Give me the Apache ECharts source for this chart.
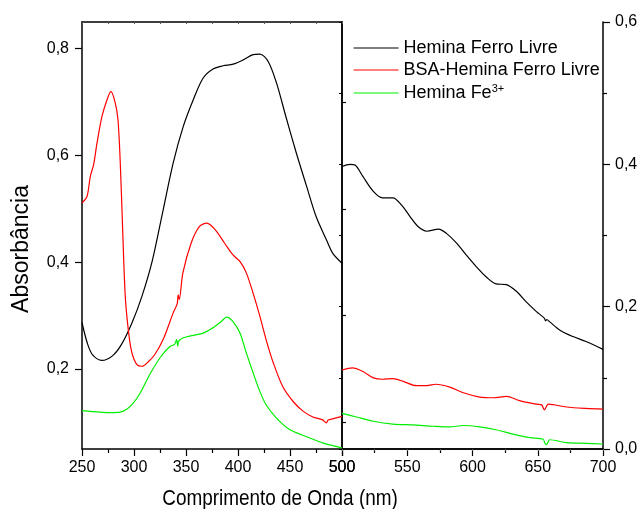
<!DOCTYPE html>
<html>
<head>
<meta charset="utf-8">
<script src="https://cdn.jsdelivr.net/npm/echarts@6/dist/echarts.min.js"></script>
<style>
  html, body { margin: 0; padding: 0; background: #fff; }
  #chart { width: 641px; height: 509px; }
</style>
</head>
<body>
<div id="chart"></div>
<script>
// 250-500 nm (eixo esquerdo)
const nmBlackL = [250, 255, 260, 269, 279, 288, 298, 307.6, 317.5, 327.5, 337.7, 347.3, 356.9, 366.5, 376, 385.7, 395.3, 405, 414.5, 421, 429, 437, 446, 456, 466, 475, 485, 491, 500]
const absBlackL = [0.287, 0.249, 0.227, 0.216, 0.224, 0.246, 0.286, 0.336, 0.402, 0.493, 0.586, 0.654, 0.704, 0.745, 0.762, 0.768, 0.771, 0.779, 0.789, 0.790, 0.776, 0.736, 0.673, 0.605, 0.542, 0.486, 0.442, 0.417, 0.398]

const nmRedL = [250, 254.8, 258, 261.2, 264.4, 269.2, 274, 277.8, 282, 284.6, 286.8, 289.1, 291.6, 294.9, 298, 302.8, 307.6, 314, 320, 328, 337.7, 341.5, 342.5, 343.5, 347, 355, 363, 370, 378, 387, 395, 402, 408, 414.5, 421, 427, 434, 443, 453, 462.5, 472, 481, 485, 486.5, 490, 500]
const absRedL = [0.511, 0.523, 0.561, 0.583, 0.623, 0.673, 0.704, 0.720, 0.698, 0.667, 0.586, 0.461, 0.336, 0.267, 0.230, 0.208, 0.205, 0.214, 0.227, 0.255, 0.305, 0.322, 0.339, 0.330, 0.380, 0.436, 0.467, 0.473, 0.461, 0.436, 0.414, 0.401, 0.380, 0.342, 0.299, 0.255, 0.211, 0.167, 0.139, 0.121, 0.110, 0.105, 0.099, 0.104, 0.106, 0.111]

const nmGreenL = [250, 267, 280, 290, 298, 306, 315, 325, 334.5, 339, 341, 342, 343, 347, 357, 366.5, 376, 384, 389, 395, 402, 408, 414.5, 421, 427, 437, 450, 466, 482, 500]
const absGreenL = [0.122, 0.119, 0.118, 0.121, 0.133, 0.155, 0.189, 0.221, 0.242, 0.246, 0.255, 0.243, 0.252, 0.258, 0.263, 0.267, 0.277, 0.289, 0.297, 0.289, 0.267, 0.230, 0.193, 0.158, 0.133, 0.108, 0.086, 0.073, 0.061, 0.052]

// 500-700 nm (eixo direito)
const nmBlackR = [500, 506, 510, 516, 524, 531, 539, 545.5, 552, 558, 565, 574, 580, 588, 595, 603, 611, 618, 626, 634, 641, 649, 655, 656, 657, 659, 667, 677, 687, 700]
const absBlackR = [0.397, 0.400, 0.399, 0.383, 0.362, 0.353, 0.353, 0.343, 0.327, 0.313, 0.306, 0.309, 0.303, 0.289, 0.273, 0.256, 0.241, 0.232, 0.231, 0.221, 0.207, 0.193, 0.184, 0.180, 0.182, 0.179, 0.167, 0.158, 0.151, 0.140]

const nmRedR = [500, 508, 516, 524, 531, 539, 547, 557, 565, 572, 582.5, 593, 605.5, 616, 626, 636, 649, 653, 655, 657, 658, 672, 687, 700]
const absRedR = [0.111, 0.114, 0.109, 0.100, 0.098, 0.099, 0.095, 0.089, 0.089, 0.091, 0.087, 0.079, 0.073, 0.072, 0.074, 0.068, 0.063, 0.062, 0.055, 0.061, 0.063, 0.059, 0.057, 0.056]

const nmGreenR = [500, 511, 524, 539, 554, 570, 582.5, 593, 605.5, 618, 631, 644, 654, 655.5, 656.5, 658, 659, 672, 687, 700]
const absGreenR = [0.050, 0.045, 0.039, 0.035, 0.034, 0.032, 0.031, 0.033, 0.031, 0.027, 0.021, 0.016, 0.014, 0.008, 0.006, 0.010, 0.013, 0.009, 0.008, 0.007]

const seriesNames = ['Hemina Ferro Livre', 'BSA-Hemina Ferro Livre', 'Hemina Fe3+']
const seriesColors = ['#000000', '#ff0000', '#00ee00']
const leftMajor = [0.2, 0.4, 0.6, 0.8]
const leftMinor = [0.1, 0.3, 0.5, 0.7]

const tickFont = "'Liberation Sans', Arial, sans-serif"
const axisLine = { show: true, lineStyle: { color: '#000', width: 1.5 } }
const fmt = v => v.toFixed(1).replace('.', ',')
const pairs = (xs, ys) => xs.map((x, i) => [x, ys[i]])

function line(name, xi, yi, xs, ys) {
  const c = seriesColors[seriesNames.indexOf(name)]
  return {
    name: name,
    type: 'line',
    xAxisIndex: xi,
    yAxisIndex: yi,
    data: pairs(xs, ys),
    symbol: 'none',
    smooth: 0.3,
    color: c,
    lineStyle: { color: c, width: 1.2 },
    silent: true
  }
}

const chart = echarts.init(document.getElementById('chart'))
chart.setOption({
  animation: false,
  backgroundColor: '#fff',
  grid: [
    { left: 82, right: 299, top: 22, bottom: 60 },
    { left: 342, right: 38, top: 22, bottom: 60 }
  ],
  legend: {
    data: seriesNames,
    left: 353,
    top: 39,
    padding: 0,
    orient: 'vertical',
    itemWidth: 45,
    itemHeight: 14,
    itemGap: 4,
    itemStyle: { opacity: 0 },
    lineStyle: { width: 1.2 },
    textStyle: {
      fontFamily: "'Liberation Sans', Arial, sans-serif",
      fontSize: 18,
      color: '#000',
      rich: {
        a: { fontFamily: "'Liberation Sans', Arial, sans-serif", fontSize: 18, color: '#000' },
        s: { fontFamily: "'Liberation Sans', Arial, sans-serif", fontSize: 11, color: '#000', verticalAlign: 'top', padding: [0, 0, 9, 0] }
      }
    },
    formatter: name => name === 'Hemina Fe3+' ? '{a|Hemina Fe}{s|3+}' : name
  },
  xAxis: [
    {
      gridIndex: 0, type: 'value', min: 250, max: 500, interval: 50,
      axisLine: axisLine, splitLine: { show: false },
      axisTick: { length: 7, lineStyle: { color: '#000', width: 1.2 } },
      minorTick: { show: true, splitNumber: 2, length: 4, lineStyle: { color: '#000', width: 1.2 } },
      axisLabel: { margin: 11, fontSize: 16, color: '#000', fontFamily: tickFont }
    },
    {
      gridIndex: 1, type: 'value', min: 500, max: 700, interval: 50,
      axisLine: axisLine, splitLine: { show: false },
      axisTick: { length: 7, lineStyle: { color: '#000', width: 1.2 } },
      minorTick: { show: true, splitNumber: 2, length: 4, lineStyle: { color: '#000', width: 1.2 } },
      axisLabel: { margin: 11, fontSize: 16, color: '#000', fontFamily: tickFont }
    },
    {
      gridIndex: 0, type: 'value', position: 'top', min: 250, max: 500, interval: 25,
      axisLine: axisLine, splitLine: { show: false }, axisLabel: { show: false },
      axisTick: { inside: true, length: 2, lineStyle: { color: '#555' } }
    },
    {
      gridIndex: 1, type: 'value', position: 'top', min: 500, max: 700, interval: 25,
      axisLine: axisLine, splitLine: { show: false }, axisLabel: { show: false },
      axisTick: { inside: true, length: 2, lineStyle: { color: '#555' } }
    }
  ],
  yAxis: [
    {
      gridIndex: 0, type: 'value', min: 0.05, max: 0.85,
      axisLine: axisLine, splitLine: { show: false },
      axisTick: { customValues: leftMajor, length: 7, lineStyle: { color: '#000', width: 1.2 } },
      axisLabel: { customValues: leftMajor, formatter: fmt, margin: 13, fontSize: 16, color: '#000', fontFamily: tickFont }
    },
    {
      gridIndex: 0, type: 'value', min: 0.05, max: 0.85,
      axisLine: { show: false }, splitLine: { show: false },
      axisTick: { customValues: leftMinor, length: 4, lineStyle: { color: '#000', width: 1.2 } },
      axisLabel: { show: false }
    },
    {
      gridIndex: 0, type: 'value', position: 'right', min: 0.05, max: 0.85,
      axisLine: axisLine, splitLine: { show: false },
      axisTick: { show: false }, axisLabel: { show: false }
    },
    {
      gridIndex: 1, type: 'value', position: 'right', min: 0, max: 0.6, interval: 0.2,
      axisLine: axisLine, splitLine: { show: false },
      axisTick: { length: 7, lineStyle: { color: '#000', width: 1.2 } },
      minorTick: { show: true, splitNumber: 2, length: 4, lineStyle: { color: '#000', width: 1.2 } },
      axisLabel: { formatter: fmt, margin: 12, fontSize: 16, color: '#000', fontFamily: tickFont }
    },
    {
      gridIndex: 1, type: 'value', position: 'left', min: 0, max: 0.6, interval: 0.1,
      axisLine: axisLine, splitLine: { show: false },
      axisTick: { length: 3, lineStyle: { color: '#000' } },
      axisLabel: { show: false }
    }
  ],
  graphic: [
    {
      type: 'text', x: 280, y: 499, scaleX: 0.86,
      style: {
        x: 0, y: 0, text: 'Comprimento de Onda (nm)', fill: '#000',
        font: "22px 'Liberation Sans', Arial, sans-serif",
        align: 'center', verticalAlign: 'middle'
      }
    },
    {
      type: 'text', x: 22, y: 249, rotation: Math.PI / 2,
      style: {
        x: 0, y: 0, text: 'Absorbância', fill: '#000',
        font: "23px 'Liberation Sans', Arial, sans-serif",
        align: 'center', verticalAlign: 'middle'
      }
    }
  ],
  series: [
    line('Hemina Ferro Livre', 0, 0, nmBlackL, absBlackL),
    line('BSA-Hemina Ferro Livre', 0, 0, nmRedL, absRedL),
    line('Hemina Fe3+', 0, 0, nmGreenL, absGreenL),
    line('Hemina Ferro Livre', 1, 3, nmBlackR, absBlackR),
    line('BSA-Hemina Ferro Livre', 1, 3, nmRedR, absRedR),
    line('Hemina Fe3+', 1, 3, nmGreenR, absGreenR)
  ]
})
</script>
</body>
</html>
